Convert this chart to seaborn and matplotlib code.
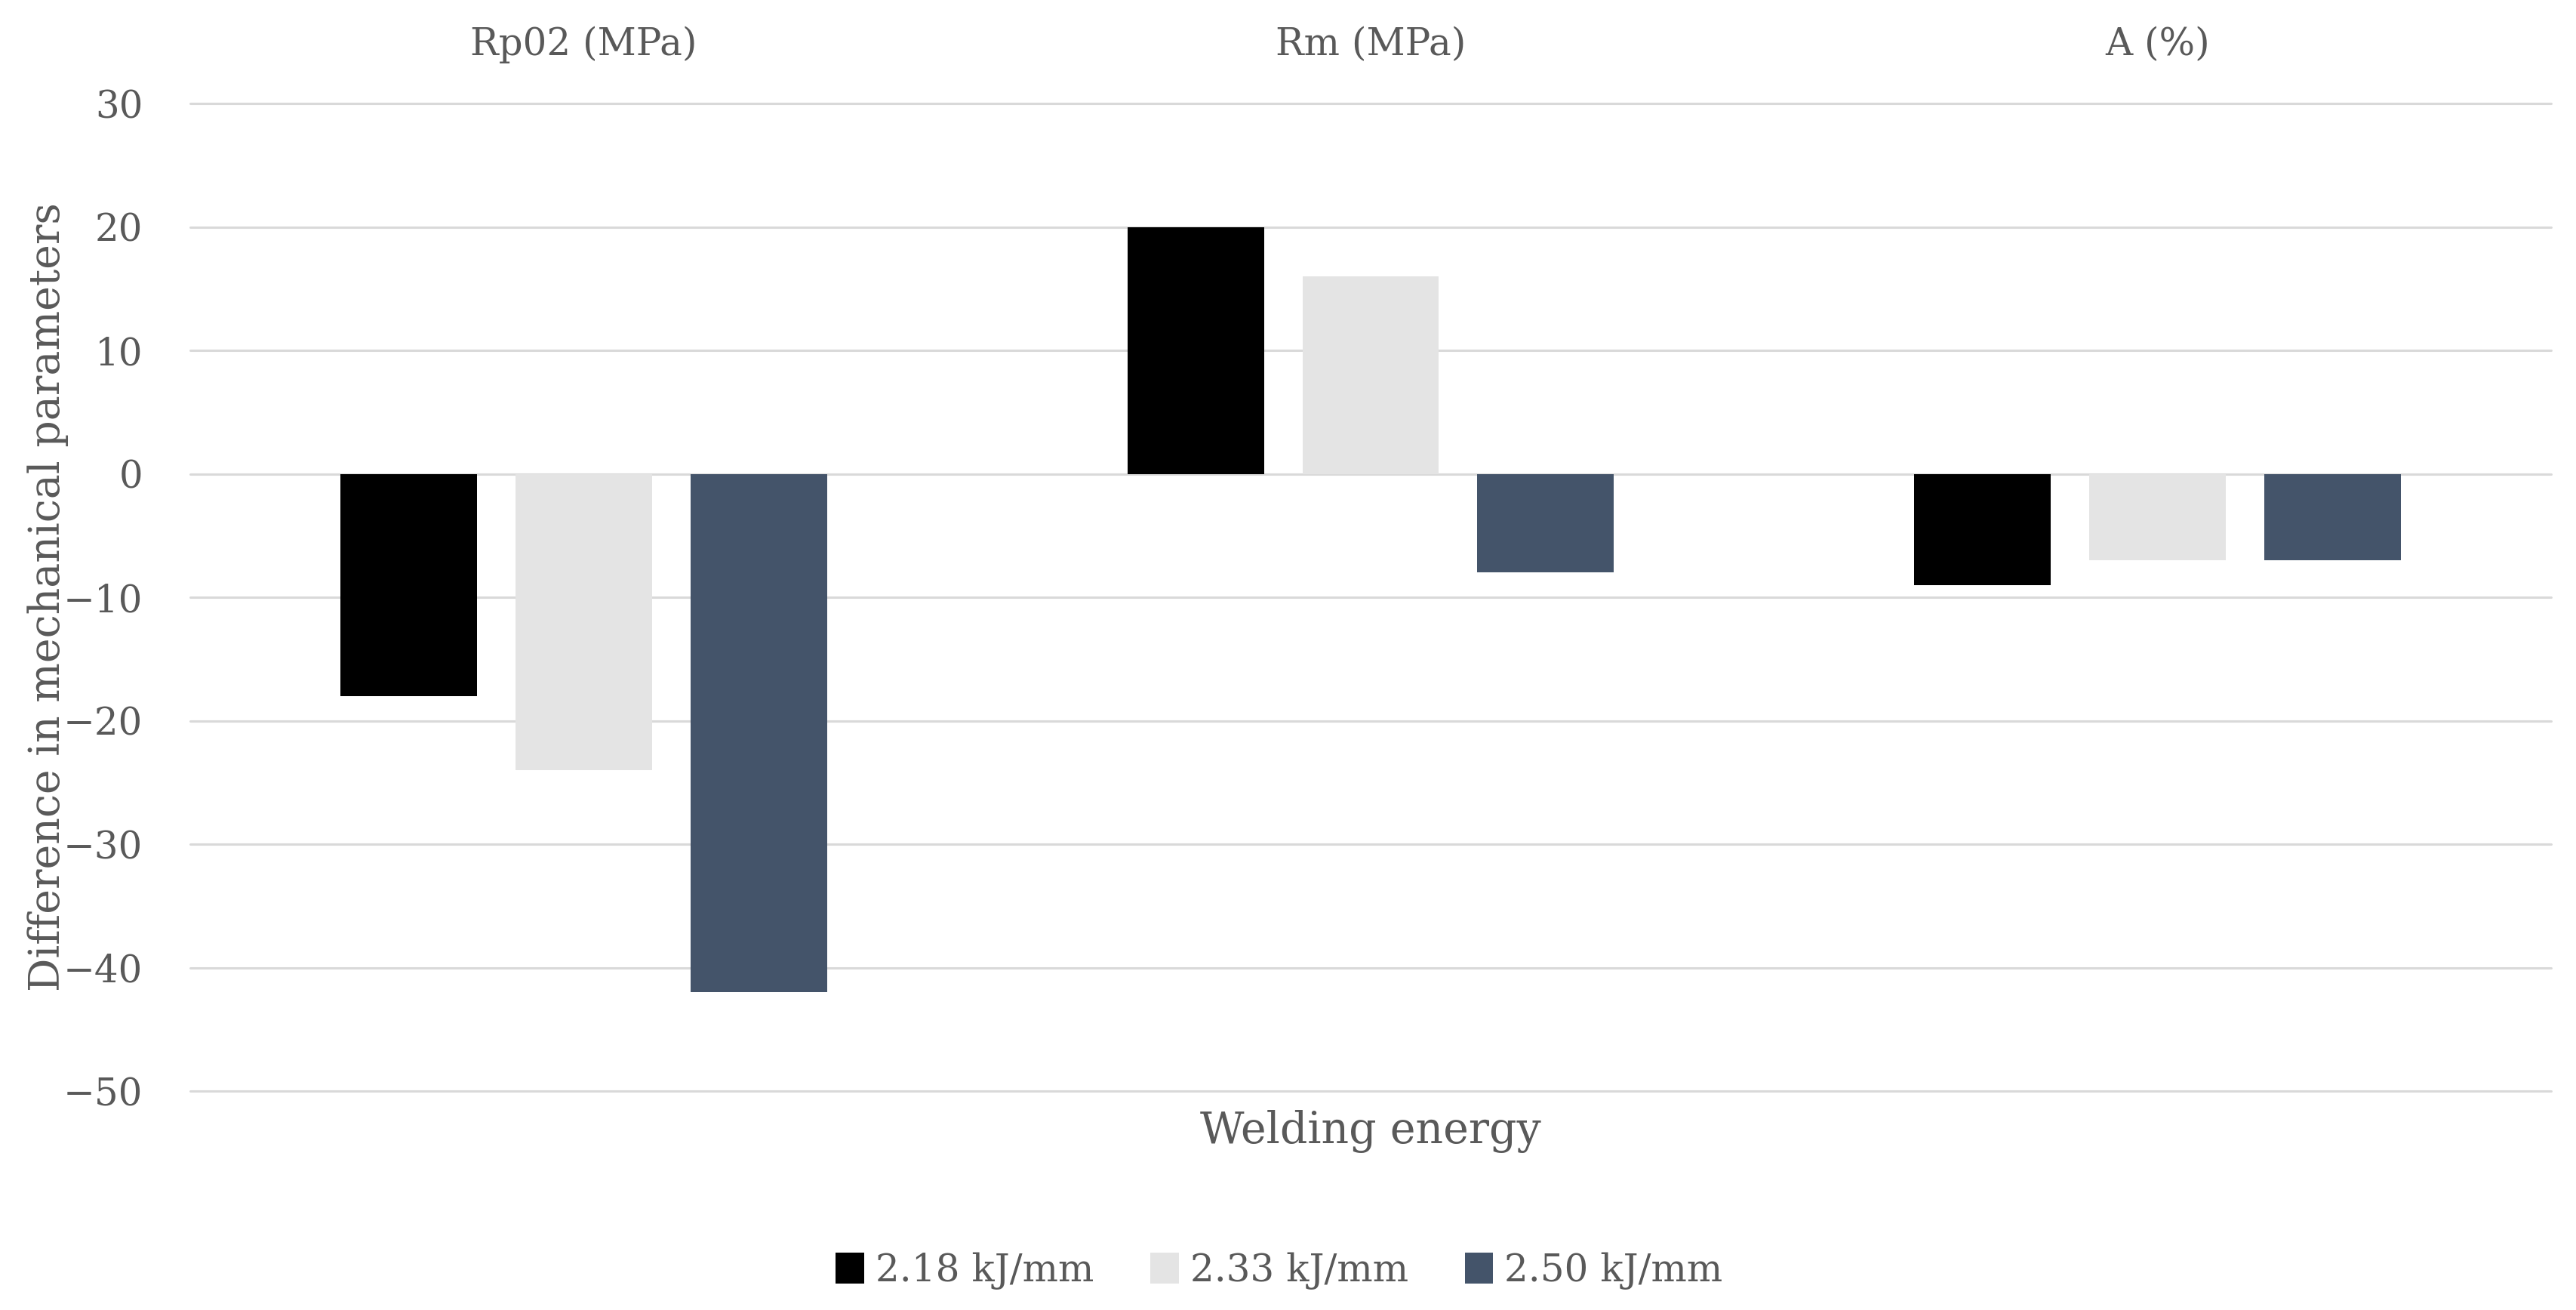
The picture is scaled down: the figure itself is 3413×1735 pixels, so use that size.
import matplotlib
matplotlib.use("Agg")
import matplotlib.pyplot as plt
import seaborn as sns
import pandas as pd

categories = ["Rp02 (MPa)", "Rm (MPa)", "A (%)"]
series_labels = ["2.18 kJ/mm", "2.33 kJ/mm", "2.50 kJ/mm"]
vals_218 = [-18, 20, -9]
vals_233 = [-24, 16, -7]
vals_250 = [-42, -8, -7]
y_ticks = [-50, -40, -30, -20, -10, 0, 10, 20, 30]

colors = ["#000000", "#E4E4E4", "#44546A"]
text_color = "#595959"
grid_color = "#D9D9D9"

rows = []
for lab, vals in zip(series_labels, [vals_218, vals_233, vals_250]):
    for c, v in zip(categories, vals):
        rows.append({"category": c, "energy": lab, "value": v})
df = pd.DataFrame(rows)

sns.set_theme(style="white")
plt.rcParams["font.family"] = ["DejaVu Serif"]
fs = 36

fig = plt.figure(figsize=(34.13, 17.35), dpi=100)
ax = fig.add_axes([252 / 3413, 1 - 1445 / 1735, (3380 - 252) / 3413, (1445 - 137) / 1735])

sns.barplot(data=df, x="category", y="value", hue="energy", order=categories,
            hue_order=series_labels, palette=colors, width=0.667, gap=0.22,
            saturation=1, linewidth=0, ax=ax, zorder=3, legend=True)

ax.set_ylim(-50, 30)
ax.set_xlim(-0.5, 2.5)
ax.set_yticks(y_ticks)
ax.yaxis.grid(True, color=grid_color, linewidth=2.2, zorder=0)
ax.set_axisbelow(True)
for line in ax.get_ygridlines():
    line.set_clip_on(False)
for s in ax.spines.values():
    s.set_visible(False)

ax.xaxis.tick_top()
ax.tick_params(axis="x", length=0, labelsize=fs, labelcolor=text_color, pad=38)
ax.tick_params(axis="y", length=0, labelsize=fs, labelcolor=text_color, pad=45)
ax.set_xlabel("Welding energy", fontsize=41, color=text_color, labelpad=18)
ax.xaxis.set_label_position("bottom")
ax.set_ylabel("Difference in mechanical parameters", fontsize=40, color=text_color)
ax.yaxis.set_label_coords(-0.0515, 0.5)

handles, labels = ax.get_legend_handles_labels()
ax.get_legend().remove()
fig.legend(handles, labels, loc="center", bbox_to_anchor=(1695 / 3413, 1 - 1683 / 1735),
           ncol=3, frameon=False, fontsize=fs, labelcolor=text_color,
           handlelength=0.75, handleheight=0.9, handletextpad=0.3, columnspacing=1.5)

fig.savefig("out.png", dpi=100)
